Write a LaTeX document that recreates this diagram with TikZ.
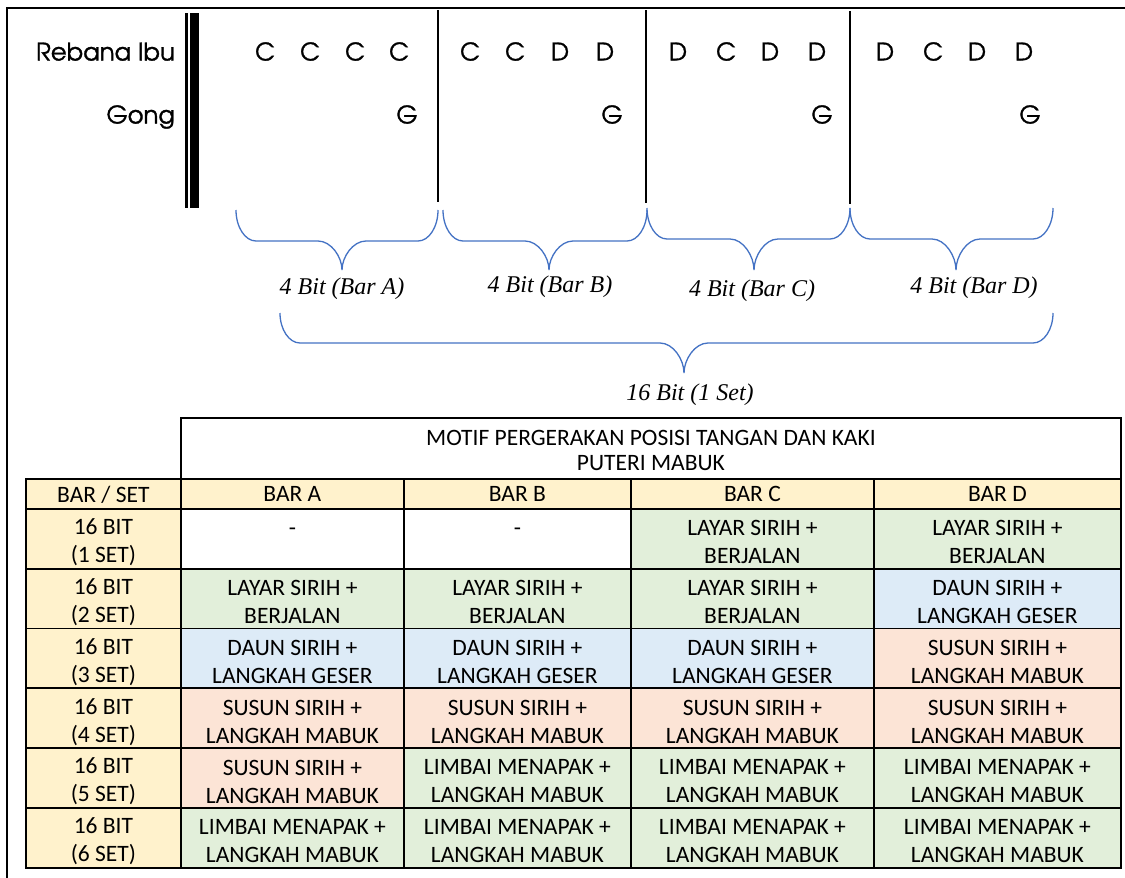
\documentclass[tikz,border=0pt]{standalone}
\usepackage{fontspec}
\setmainfont{Carlito}
\newfontfamily\notefont[Extension=.otf, FakeBold=1.3]{texgyreadventor-regular}
\newfontfamily\serifit{Liberation Serif}
\definecolor{yel}{HTML}{FFF2CC}
\definecolor{grn}{HTML}{E2EFDA}
\definecolor{blu}{HTML}{DDEBF7}
\definecolor{pnk}{HTML}{FCE4D6}
\definecolor{braceblue}{HTML}{4472C4}
\newcommand\tcell[7]{\node[tcell, fill=#6, minimum width=#4pt, minimum height=#5pt] (#1) at (#2,#3) {};
  \node[ctext] (#1t) at ([yshift=-3.5pt]#1.center) {#7};}
\newcommand\mybrace[6]{%
  \draw[bracestyle] (#1,#4) .. controls (#1,{#4+0.55*(#5-#4)}) and ({#1+0.45*20},#5) .. ({#1+20},#5)
  -- ({#2-24},#5) .. controls ({#2-24*0.45},#5) and (#2,{#5+0.55*(#6-#5)}) .. (#2,#6)
  .. controls (#2,{#5+0.55*(#6-#5)}) and ({#2+24*0.45},#5) .. ({#2+24},#5)
  -- ({#3-20},#5) .. controls ({#3-0.45*20},#5) and (#3,{#4+0.55*(#5-#4)}) .. (#3,#4);}
\def\LS{LAYAR SIRIH +\\BERJALAN}
\def\DS{DAUN SIRIH +\\LANGKAH GESER}
\def\SS{SUSUN SIRIH +\\LANGKAH MABUK}
\def\LM{LIMBAI MENAPAK +\\LANGKAH MABUK}
\def\BS{16 BIT\\}
\begin{document}
\begin{tikzpicture}[x=1pt,y=-1pt,
  note/.style={font=\notefont\fontsize{24.3}{28}\selectfont, anchor=base, inner sep=0},
  lbl/.style={font=\serifit\itshape\fontsize{24}{28}\selectfont, anchor=base, inner sep=0},
  tcell/.style={draw=black, line width=1.8pt, inner sep=0, anchor=north west},
  ctext/.style={inner sep=0, align=center, font=\fontsize{23.5}{28}\selectfont},
  barline/.style={line width=2pt},
  bracestyle/.style={draw=braceblue, line width=1.3pt}]
\useasboundingbox (0,0) rectangle (1125,878);
\fill[white] (0,0) rectangle (1125,878);
% outer frame
\draw[line width=2.5pt] (7,878) -- (7,8) -- (1125,8);
% double bar
\draw[line width=2.7pt] (186.3,13) -- (186.3,208);
\draw[line width=9pt] (194.5,13) -- (194.5,208);
% bar lines
\draw[barline] (438,10) -- (438,202);
\draw[barline] (646,10) -- (646,203);
\draw[barline] (850,11) -- (850,204);
% instrument labels
\node[note, anchor=base east] (reb) at (175,60.5) {Rebana Ibu};
\node[note, anchor=base east] (gong) at (175,123.5) {Gong};
% notes
\foreach \x/\l [count=\i] in {265/C,310/C,355/C,399/C,470/C,515/C,560/D,605/D,678/D,726/C,770/D,817/D,885/D,933/C,977/D,1024/D}
  \node[note] (n\i) at (\x,60.5) {\l};
\foreach \x [count=\i] in {407,612,822,1030}
  \node[note] (g\i) at (\x,123.5) {G};
% braces
\mybrace{236}{342}{438}{210}{241}{270}
\mybrace{443}{549}{647}{210}{241}{270}
\mybrace{647}{754}{850}{208}{239}{270}
\mybrace{850}{956}{1053}{208}{239}{270}
\mybrace{280}{684}{1053}{313}{343}{373}
\node[lbl] (la) at (342,294) {4 Bit (Bar A)};
\node[lbl] (lb) at (550,292) {4 Bit (Bar B)};
\node[lbl] (lc) at (752,296) {4 Bit (Bar C)};
\node[lbl] (ld) at (974,293) {4 Bit (Bar D)};
\node[lbl] (lset) at (690,400) {16 Bit (1 Set)};
% table
\node[tcell, fill=white, minimum width=940pt, minimum height=61pt] (top) at (180,417) {};
\node[ctext, font=\fontsize{23.5}{25}\selectfont] (topt) at ([yshift=-2pt]top.center) {MOTIF PERGERAKAN POSISI TANGAN DAN KAKI\\PUTERI MABUK};
\node[tcell, fill=yel, minimum width=155pt, minimum height=30pt] (h0) at (25,478) {};
\node[tcell, fill=yel, minimum width=223pt, minimum height=30pt] (h1) at (180,478) {};
\node[tcell, fill=yel, minimum width=227pt, minimum height=30pt] (h2) at (403,478) {};
\node[tcell, fill=yel, minimum width=243pt, minimum height=30pt] (h3) at (630,478) {};
\node[tcell, fill=yel, minimum width=247pt, minimum height=30pt] (h4) at (873,478) {};
\node[ctext] (h0t) at ([yshift=-0.5pt]h0.center) {BAR / SET};
\node[ctext] (h1t) at ([yshift=-0.5pt]h1.center) {BAR A};
\node[ctext] (h2t) at ([yshift=-0.5pt]h2.center) {BAR B};
\node[ctext] (h3t) at ([yshift=-0.5pt]h3.center) {BAR C};
\node[ctext] (h4t) at ([yshift=-0.5pt]h4.center) {BAR D};
% row 1
\tcell{r1c0}{25}{508}{155}{59.8}{yel}{\BS(1 SET)}
\tcell{r1c1}{180}{508}{223}{59.8}{white}{\strut\raisebox{-2pt}{-}\\\strut}
\tcell{r1c2}{403}{508}{227}{59.8}{white}{\strut\raisebox{-2pt}{-}\\\strut}
\tcell{r1c3}{630}{508}{243}{59.8}{grn}{\LS}
\tcell{r1c4}{873}{508}{247}{59.8}{grn}{\LS}
% row 2
\tcell{r2c0}{25}{567.8}{155}{59.8}{yel}{\BS(2 SET)}
\tcell{r2c1}{180}{567.8}{223}{59.8}{grn}{\LS}
\tcell{r2c2}{403}{567.8}{227}{59.8}{grn}{\LS}
\tcell{r2c3}{630}{567.8}{243}{59.8}{grn}{\LS}
\tcell{r2c4}{873}{567.8}{247}{59.8}{blu}{\DS}
% row 3
\tcell{r3c0}{25}{627.6}{155}{59.8}{yel}{\BS(3 SET)}
\tcell{r3c1}{180}{627.6}{223}{59.8}{blu}{\DS}
\tcell{r3c2}{403}{627.6}{227}{59.8}{blu}{\DS}
\tcell{r3c3}{630}{627.6}{243}{59.8}{blu}{\DS}
\tcell{r3c4}{873}{627.6}{247}{59.8}{pnk}{\SS}
% row 4
\tcell{r4c0}{25}{687.4}{155}{59.8}{yel}{\BS(4 SET)}
\tcell{r4c1}{180}{687.4}{223}{59.8}{pnk}{\SS}
\tcell{r4c2}{403}{687.4}{227}{59.8}{pnk}{\SS}
\tcell{r4c3}{630}{687.4}{243}{59.8}{pnk}{\SS}
\tcell{r4c4}{873}{687.4}{247}{59.8}{pnk}{\SS}
% row 5
\tcell{r5c0}{25}{747.2}{155}{59.8}{yel}{\BS(5 SET)}
\tcell{r5c1}{180}{747.2}{223}{59.8}{pnk}{\SS}
\tcell{r5c2}{403}{747.2}{227}{59.8}{grn}{\LM}
\tcell{r5c3}{630}{747.2}{243}{59.8}{grn}{\LM}
\tcell{r5c4}{873}{747.2}{247}{59.8}{grn}{\LM}
% row 6
\tcell{r6c0}{25}{807}{155}{59.8}{yel}{\BS(6 SET)}
\tcell{r6c1}{180}{807}{223}{59.8}{grn}{\LM}
\tcell{r6c2}{403}{807}{227}{59.8}{grn}{\LM}
\tcell{r6c3}{630}{807}{243}{59.8}{grn}{\LM}
\tcell{r6c4}{873}{807}{247}{59.8}{grn}{\LM}
\end{tikzpicture}
\end{document}
